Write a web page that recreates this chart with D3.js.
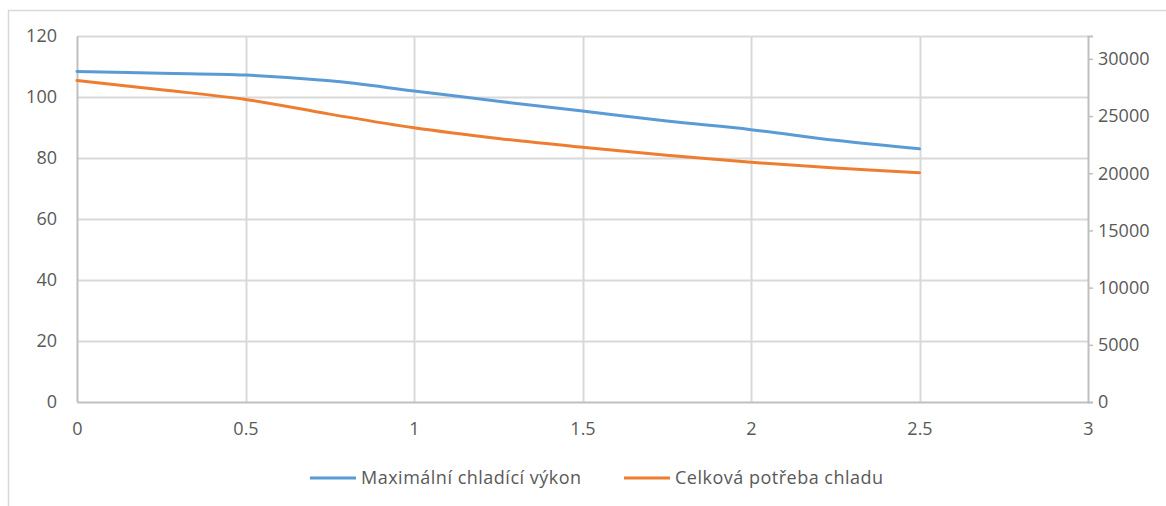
<!DOCTYPE html>
<html>
<head>
<meta charset="utf-8">
<script src="https://cdn.jsdelivr.net/npm/d3@7"></script>
<style>
  html, body { margin: 0; padding: 0; background: #ffffff; }
  svg { display: block; }
  text { font-family: "Open Sans", "Noto Sans", sans-serif; fill: #595959; }
</style>
</head>
<body>
<svg id="chart" width="1166" height="506"></svg>
<script>
// ---- data ----
const xValues = [0, 0.25, 0.5, 0.75, 1, 1.25, 1.5, 1.75, 2, 2.25, 2.5];
const maxCooling = [108.4, 107.8, 107.2, 105.3, 102.0, 98.6, 95.4, 92.1, 89.3, 85.8, 83.0];
const totalDemand = [28100, 27300, 26450, 25170, 23970, 23040, 22270, 21570, 20960, 20450, 20050];
const seriesNames = ["Maximální chladící výkon", "Celková potřeba chladu"];
const xTicks = [0, 0.5, 1, 1.5, 2, 2.5, 3];
const leftTicks = [0, 20, 40, 60, 80, 100, 120];
const rightTicks = [0, 5000, 10000, 15000, 20000, 25000, 30000];

// ---- layout ----
const plot = { left: 77, right: 1088, top: 36, bottom: 402 };
const colors = ["#5B9BD5", "#ED7D31"];
const fontSize = 18;

const svg = d3.select("#chart");

// outer chart frame (clipped by the picture at right and bottom)
svg.append("rect")
  .attr("x", 8.5).attr("y", 10.5)
  .attr("width", 1400).attr("height", 800)
  .attr("fill", "none").attr("stroke", "#d9d9d9").attr("stroke-width", 1.5);

const x = d3.scaleLinear().domain([0, 3]).range([plot.left, plot.right]);
const yL = d3.scaleLinear().domain([0, 120]).range([plot.bottom, plot.top]);
const yR = d3.scaleLinear().domain([0, 32000]).range([plot.bottom, plot.top]);

// gridlines
const grid = svg.append("g");
grid.selectAll("line.h").data(leftTicks.filter(d => d > 0)).enter().append("line")
  .attr("x1", plot.left).attr("x2", plot.right)
  .attr("y1", d => Math.round(yL(d)) + 0.5).attr("y2", d => Math.round(yL(d)) + 0.5)
  .attr("stroke", "#d9d9d9").attr("stroke-width", 2);
grid.selectAll("line.v").data(xTicks.filter(d => d > 0 && d < 3)).enter().append("line")
  .attr("y1", plot.top).attr("y2", plot.bottom)
  .attr("x1", d => Math.round(x(d)) + 0.5).attr("x2", d => Math.round(x(d)) + 0.5)
  .attr("stroke", "#d9d9d9").attr("stroke-width", 2);

function styleText(g) {
  g.selectAll("text").style("font-size", fontSize + "px").attr("fill", "#595959")
    .style("font-family", '"Open Sans", sans-serif');
}

// left axis
const leftAxis = d3.axisLeft(yL).tickValues(leftTicks).tickSize(0).tickPadding(20).tickFormat(d3.format("d"));
const gL = svg.append("g").attr("transform", `translate(${plot.left},0)`).call(leftAxis);
gL.select(".domain").attr("stroke", "#bfbfbf").attr("stroke-width", 2);
styleText(gL);

// bottom axis
const bottomAxis = d3.axisBottom(x).tickValues(xTicks).tickSize(0).tickPadding(20).tickFormat(d => String(d));
const gB = svg.append("g").attr("transform", `translate(0,${plot.bottom})`).call(bottomAxis);
gB.select(".domain").attr("stroke", "#bfbfbf").attr("stroke-width", 2);
styleText(gB);

// right axis
const rightAxis = d3.axisRight(yR).tickValues(rightTicks).tickSizeOuter(0).tickSize(5).tickPadding(5).tickFormat(d3.format("d"));
const gR = svg.append("g").attr("transform", `translate(${plot.right},0)`).call(rightAxis);
gR.select(".domain").attr("stroke", "#bfbfbf").attr("stroke-width", 2);
gR.selectAll(".tick line").attr("stroke", "#bfbfbf").attr("stroke-width", 1.5);
styleText(gR);

// lines
const lineL = d3.line().x((d, i) => x(xValues[i])).y(d => yL(d)).curve(d3.curveCatmullRom.alpha(0.5));
const lineR = d3.line().x((d, i) => x(xValues[i])).y(d => yR(d)).curve(d3.curveCatmullRom.alpha(0.5));

svg.append("path").datum(maxCooling).attr("d", lineL)
  .attr("fill", "none").attr("stroke", colors[0]).attr("stroke-width", 3).attr("stroke-linecap", "round");
svg.append("path").datum(totalDemand).attr("d", lineR)
  .attr("fill", "none").attr("stroke", colors[1]).attr("stroke-width", 3).attr("stroke-linecap", "round");

// legend
const legendY = 478;
const legendItems = [
  { name: seriesNames[0], color: colors[0], x0: 310 },
  { name: seriesNames[1], color: colors[1], x0: 624 }
];
const lg = svg.append("g");
legendItems.forEach(it => {
  lg.append("line").attr("x1", it.x0).attr("x2", it.x0 + 46)
    .attr("y1", legendY).attr("y2", legendY)
    .attr("stroke", it.color).attr("stroke-width", 3);
  lg.append("text").attr("x", it.x0 + 51).attr("y", legendY)
    .attr("dy", "0.35em").style("font-size", fontSize + "px")
    .style("letter-spacing", "0.5px").text(it.name);
});
</script>
</body>
</html>
